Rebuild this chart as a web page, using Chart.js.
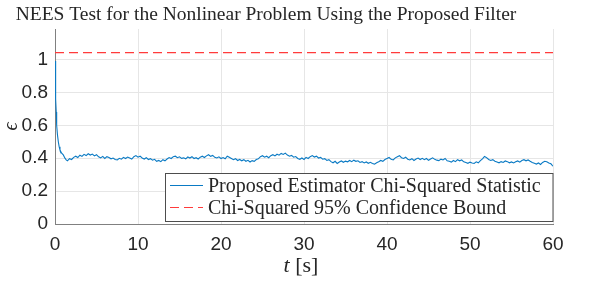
<!DOCTYPE html>
<html>
<head>
<meta charset="utf-8">
<script src="https://cdn.jsdelivr.net/npm/chart.js@4"></script>
<style>
  body { margin: 0; background: #fff; }
  canvas { display: block; }
</style>
</head>
<body>
<canvas id="chart" width="598" height="281"></canvas>
<script>
// transient part
const tStart = [0, 0.05, 0.1, 0.15, 0.2, 0.3, 0.4, 0.5, 0.6, 0.8, 1.0, 1.2, 1.35];
const vStart = [0.99, 0.88, 0.76, 0.68, 0.6, 0.54, 0.5, 0.47, 0.45, 0.43, 0.42, 0.40, 0.39];

// steady part, one value every 0.25 s from t = 1.5 s
const steadyT0 = 1.5;
const steadyDt = 0.25;
const vSteady = [
  0.384, 0.397, 0.392, 0.405,
  0.412, 0.404, 0.418, 0.411,
  0.423, 0.416, 0.427, 0.419,
  0.425, 0.414, 0.421, 0.408,
  0.402, 0.411, 0.398, 0.409,
  0.404, 0.396, 0.401, 0.392,
  0.389, 0.399, 0.394, 0.405,
  0.398, 0.407, 0.401, 0.395,
  0.409, 0.416, 0.406, 0.412,
  0.401, 0.395, 0.403, 0.392,
  0.397, 0.388, 0.393, 0.381,
  0.386, 0.379, 0.391, 0.384,
  0.395, 0.404, 0.398, 0.409,
  0.412, 0.403, 0.408, 0.399,
  0.402, 0.396, 0.407, 0.401,
  0.409, 0.398, 0.403, 0.395,
  0.406, 0.412, 0.404, 0.414,
  0.421, 0.411, 0.417, 0.405,
  0.401, 0.408, 0.398, 0.404,
  0.396, 0.412, 0.405, 0.398,
  0.391, 0.397, 0.386, 0.392,
  0.384, 0.391, 0.381, 0.387,
  0.377, 0.385, 0.381, 0.392,
  0.396, 0.409, 0.415, 0.406,
  0.412, 0.403, 0.415, 0.421,
  0.414, 0.424, 0.418, 0.429,
  0.423, 0.431, 0.419, 0.412,
  0.417, 0.406, 0.410, 0.398,
  0.393, 0.401, 0.392, 0.405,
  0.398, 0.409, 0.416, 0.407,
  0.412, 0.401, 0.405, 0.394,
  0.397, 0.386, 0.391, 0.379,
  0.372, 0.381, 0.368, 0.377,
  0.383, 0.375, 0.382, 0.378,
  0.386, 0.379, 0.388, 0.381,
  0.384, 0.374, 0.379, 0.371,
  0.377, 0.369, 0.375, 0.368,
  0.364, 0.372, 0.378, 0.386,
  0.381, 0.392, 0.398, 0.404,
  0.393, 0.389, 0.402, 0.409,
  0.415, 0.403, 0.398, 0.406,
  0.394, 0.389, 0.397, 0.386,
  0.395, 0.401, 0.392, 0.399,
  0.391, 0.398, 0.387, 0.395,
  0.402, 0.393, 0.388, 0.385,
  0.394, 0.389, 0.398, 0.384,
  0.381, 0.376, 0.386, 0.379,
  0.391, 0.384, 0.389, 0.378,
  0.374, 0.369, 0.376, 0.371,
  0.368, 0.378, 0.372, 0.385,
  0.396, 0.411, 0.403, 0.392,
  0.386, 0.391, 0.382, 0.377,
  0.372, 0.379, 0.374, 0.383,
  0.379, 0.372, 0.377, 0.371,
  0.378, 0.383, 0.376, 0.386,
  0.391, 0.384, 0.389, 0.381,
  0.374, 0.369, 0.364, 0.371,
  0.362, 0.374, 0.381, 0.378,
  0.371, 0.366, 0.351
];

const boundValue = 1.042;
const boundT = [0, 60];

const xTicks = [0, 10, 20, 30, 40, 50, 60];
const yTicks = [0, 0.2, 0.4, 0.6, 0.8, 1];

const titleText = 'NEES Test for the Nonlinear Problem Using the Proposed Filter';
const seriesLabel = 'Proposed Estimator Chi-Squared Statistic';
const boundLabel = 'Chi-Squared 95% Confidence Bound';

const neesPoints = tStart.map((t, i) => ({ x: t, y: vStart[i] }))
  .concat(vSteady.map((v, i) => ({ x: steadyT0 + i * steadyDt, y: v })));
const boundPoints = boundT.map(t => ({ x: t, y: boundValue }));

const serif = '"Liberation Serif", "DejaVu Serif", serif';
const sans = '"Liberation Sans", Arial, sans-serif';
const ink = '#262626';

// title, x label and the boxed legend inside the axes
const decorations = {
  id: 'decorations',
  afterDatasetsDraw(chart) {
    const ctx = chart.ctx;
    const area = chart.chartArea;
    ctx.save();
    ctx.fillStyle = ink;

    // title
    ctx.font = '19.5px ' + serif;
    ctx.textAlign = 'center';
    ctx.textBaseline = 'alphabetic';
    ctx.fillText(titleText, 266, 20);

    // x axis label: italic t, upright [s]
    ctx.textAlign = 'left';
    const italic = 'italic 22px ' + serif;
    const upright = '22px ' + serif;
    ctx.font = italic;
    const wT = ctx.measureText('t').width;
    ctx.font = upright;
    const wRest = ctx.measureText(' [s]').width;
    const x0 = 301 - (wT + wRest) / 2;
    ctx.font = italic;
    ctx.fillText('t', x0, 272);
    ctx.font = upright;
    ctx.fillText(' [s]', x0 + wT, 272);

    // legend
    const box = { x: 165.5, y: 173.5, w: area.right - 165.5, h: 48 };
    ctx.fillStyle = '#fff';
    ctx.fillRect(box.x, box.y, box.w, box.h);
    ctx.strokeStyle = '#4d4d4d';
    ctx.lineWidth = 1;
    ctx.strokeRect(box.x, box.y, box.w, box.h);

    ctx.font = '20px ' + serif;
    ctx.textBaseline = 'middle';
    chart.data.datasets.forEach((ds, i) => {
      const cy = 185.5 + i * 22;
      ctx.save();
      ctx.strokeStyle = ds.borderColor;
      ctx.lineWidth = ds.borderWidth;
      ctx.setLineDash(ds.borderDash || []);
      ctx.beginPath();
      ctx.moveTo(170, cy);
      ctx.lineTo(203, cy);
      ctx.stroke();
      ctx.restore();
      ctx.fillStyle = ink;
      ctx.fillText(ds.label, 208, cy + 1);
    });
    ctx.restore();
  }
};

new Chart(document.getElementById('chart'), {
  type: 'line',
  data: {
    datasets: [
      {
        label: seriesLabel,
        data: neesPoints,
        borderColor: '#0a7ac4',
        borderWidth: 1.1,
        pointRadius: 0,
        tension: 0
      },
      {
        label: boundLabel,
        data: boundPoints,
        borderColor: '#ff3b3b',
        borderWidth: 1.2,
        borderDash: [9, 5],
        pointRadius: 0
      }
    ]
  },
  options: {
    responsive: false,
    animation: false,
    devicePixelRatio: 1,
    layout: { padding: { top: 29, right: 45, left: 0, bottom: 0 } },
    plugins: {
      legend: { display: false },
      tooltip: { enabled: false }
    },
    scales: {
      x: {
        type: 'linear',
        min: 0,
        max: 60,
        afterBuildTicks: s => { s.ticks = xTicks.map(v => ({ value: v })); },
        afterFit: s => { s.height = 57; },
        ticks: { font: { family: sans, size: 19 }, color: ink, padding: 9, maxRotation: 0 },
        grid: { color: '#e6e6e6', drawTicks: false },
        border: { color: '#808080' }
      },
      y: {
        min: 0,
        max: 1.185,
        afterBuildTicks: s => { s.ticks = yTicks.map(v => ({ value: v })); },
        afterFit: s => { s.width = 55; },
        ticks: {
          font: { family: sans, size: 19 },
          color: ink,
          padding: 7,
          callback: v => String(v)
        },
        grid: { color: '#e6e6e6', drawTicks: false },
        border: { color: '#808080' },
        title: {
          display: true,
          text: 'ϵ',
          font: { family: serif, size: 20, style: 'italic' },
          color: ink,
          padding: { top: 0, bottom: 0 }
        }
      }
    }
  },
  plugins: [decorations]
});
</script>
</body>
</html>
